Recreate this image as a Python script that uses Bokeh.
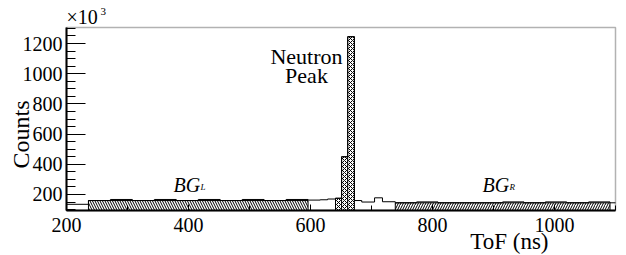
from math import pi
from bokeh.plotting import figure
from bokeh.models import (Label, SingleIntervalTicker, Range1d, LinearAxis,
                          BoxAnnotation)
from bokeh.embed import file_html
from bokeh.resources import INLINE

# ---- data ----
tof_edges = [200, 236, 272, 308, 344, 380, 416, 452, 488, 524, 560, 596,
             616, 628, 641, 651, 661, 672, 684, 705, 718, 739,
             774, 809, 844, 879, 915, 950, 985, 1020, 1056, 1091, 1100]
counts = [135,
          160, 167, 160, 167, 160, 167, 160, 167, 160, 167,
          163, 165, 170, 175, 450, 1245, 160, 150, 178, 152,
          145, 151, 145, 145, 145, 151, 145, 151, 145, 151,
          145]
peak_window = [641, 672]
bg_left = [236, 596]
bg_right = [739, 1091]
bg_levels = [160, 145]
x_span = [200, 1100]
y_span = [94, 1306]

FONT = "Liberation Serif"

# ---- layout: plot box inside a full-canvas frame ----
W, H = 622, 254
BOX_L, BOX_R, BOX_T, BOX_B = 66, 615, 27, 210
kx = (BOX_R - BOX_L) / (x_span[1] - x_span[0])
ky = (BOX_B - BOX_T) / (y_span[1] - y_span[0])
xr = Range1d(x_span[0] - BOX_L / kx, x_span[1] + (W - BOX_R) / kx)
yr = Range1d(y_span[0] - (H - BOX_B) / ky, y_span[1] + BOX_T / ky)

p = figure(width=W, height=H, output_backend="svg", toolbar_location=None,
           x_range=xr, y_range=yr, x_axis_location=None, y_axis_location=None,
           min_border=0)
p.grid.visible = False
p.outline_line_color = None
p.background_fill_color = "white"
p.border_fill_color = "white"

# background windows (hatched)
p.quad(left=[bg_left[0]], right=[bg_left[1]], bottom=[y_span[0]], top=[bg_levels[0]],
       fill_color="white", line_color="black", line_width=1,
       hatch_pattern="left_diagonal_line", hatch_color="black",
       hatch_scale=5, hatch_weight=1)
p.quad(left=[bg_right[0]], right=[bg_right[1]], bottom=[y_span[0]], top=[bg_levels[1]],
       fill_color="white", line_color="black", line_width=1,
       hatch_pattern="right_diagonal_line", hatch_color="black",
       hatch_scale=5, hatch_weight=1)

# neutron peak bins (cross-hatched)
pl, pr, pt = [], [], []
for i in range(len(counts)):
    if tof_edges[i] >= peak_window[0] and tof_edges[i + 1] <= peak_window[1]:
        pl.append(tof_edges[i]); pr.append(tof_edges[i + 1]); pt.append(counts[i])
p.quad(left=pl, right=pr, bottom=[y_span[0]] * len(pl), top=pt,
       fill_color="white", line_color="black", line_width=1,
       hatch_pattern="diagonal_cross", hatch_color="black",
       hatch_scale=4, hatch_weight=1)

# histogram outline
p.step(x=tof_edges, y=counts + [counts[-1]], mode="after",
       line_color="black", line_width=1)

# plot box (top / right edges)
p.add_layout(BoxAnnotation(left=x_span[0], right=x_span[1], bottom=y_span[0],
                           top=y_span[1], fill_alpha=0, line_color="black",
                           line_width=1.5))

common = dict(axis_line_width=2, axis_line_color="black",
              major_tick_line_color="black", minor_tick_line_color="black",
              major_tick_out=0, minor_tick_out=0,
              major_label_text_font=FONT, major_label_text_font_size="20px",
              major_label_text_font_style="normal",
              major_label_text_color="black")
xaxis = LinearAxis(ticker=SingleIntervalTicker(interval=200, num_minor_ticks=2),
                   fixed_location=y_span[0], bounds=(x_span[0], x_span[1]),
                   major_tick_in=6, minor_tick_in=5, major_label_standoff=7,
                   **common)
yaxis = LinearAxis(ticker=SingleIntervalTicker(interval=200, num_minor_ticks=4),
                   fixed_location=x_span[0], bounds=(y_span[0], y_span[1]),
                   major_tick_in=19, minor_tick_in=9, major_label_standoff=4,
                   **common)
p.add_layout(xaxis, "below")
p.add_layout(yaxis, "left")

def lab(text, x, top_y, size, align="left", baseline="alphabetic", angle=0,
        style="normal"):
    # top_y: position measured from the top of the canvas
    y = H - top_y + (7 if baseline == "alphabetic" else 0)
    p.add_layout(Label(x=x, y=y, x_units="screen", y_units="screen", text=text,
                       text_font=FONT, text_font_size=size, text_align=align,
                       text_baseline=baseline, angle=angle,
                       text_font_style=style, text_color="black"))

lab("\u00d710", 66, 23, "20px")
lab("3", 100, 18, "11px")
lab("Counts", 20, 134, "24px", align="center", baseline="middle", angle=pi / 2)
lab("ToF (ns)", 548, 248, "23px", align="right")
lab("Neutron", 306, 63, "22px", align="center")
lab("Peak", 306, 82, "22px", align="center")
lab("BG", 173, 191, "20px", style="italic")
lab("L", 200, 193, "9px", style="italic")
lab("BG", 482, 191, "20px", style="italic")
lab("R", 509, 193, "9px", style="italic")

open("out.html", "w").write(file_html(p, INLINE))
